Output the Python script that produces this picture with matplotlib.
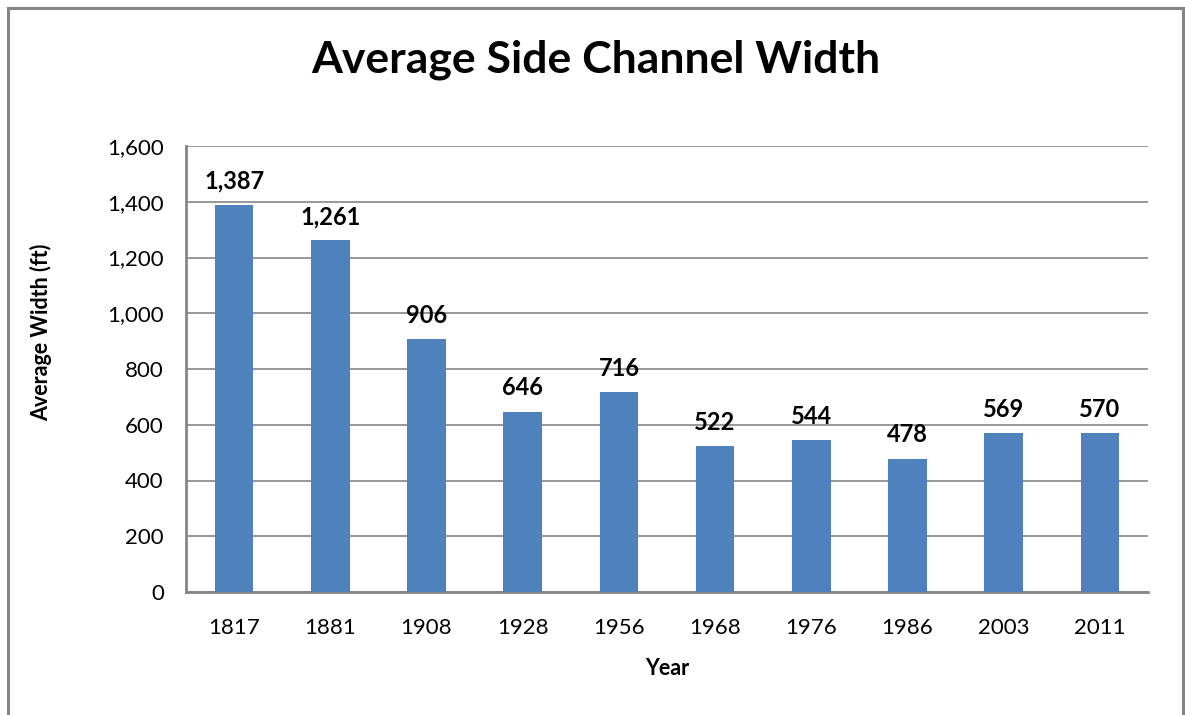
import matplotlib.pyplot as plt
from matplotlib.patches import Rectangle

years = ['1817', '1881', '1908', '1928', '1956', '1968', '1976', '1986', '2003', '2011']
widths = [1387, 1261, 906, 646, 716, 522, 544, 478, 569, 570]
yticks = [0, 200, 400, 600, 800, 1000, 1200, 1400, 1600]

plt.rcParams['font.family'] = ['Lato', 'DejaVu Sans']

W, H = 1185, 715
fig = plt.figure(figsize=(W / 100, H / 100), dpi=100)

# chart frame (bottom edge falls outside the picture)
fig.patches.append(Rectangle((8 / W, -0.1), (1183 - 8) / W, 1.1 - 8 / H, transform=fig.transFigure,
                             fill=False, edgecolor='#868686', linewidth=2.2))

ax = fig.add_axes([186 / W, 1 - 592 / H, (1148 - 186) / W, (592 - 146) / H])
x = range(len(years))
bars = ax.bar(x, widths, width=0.4, color='#4F81BD', zorder=3)
for b, v in zip(bars, widths):
    ax.text(b.get_x() + b.get_width() / 2, v + 45, f'{v:,}', ha='center', va='bottom',
            fontsize=17, fontweight='bold')

ax.set_xlim(-0.5, len(years) - 0.5)
ax.set_ylim(0, 1600)
ax.set_yticks(yticks)
ax.set_yticklabels([f'{t:,}' for t in yticks])
ax.set_xticks(list(x))
ax.set_xticklabels(years)
ax.tick_params(length=0, labelsize=16)
ax.tick_params(axis='y', pad=16)
ax.tick_params(axis='x', pad=19)
ax.grid(axis='y', color='#868686', linewidth=1.2, zorder=0)
for s in ['top', 'right']:
    ax.spines[s].set_visible(False)
for s in ['left', 'bottom']:
    ax.spines[s].set_color('#868686')
    ax.spines[s].set_linewidth(2)

ax.set_xlabel('Year', fontsize=15.5, fontweight='bold', labelpad=14)
ax.set_ylabel('Average Width (ft)', fontsize=15.5, fontweight='bold')
ax.yaxis.set_label_coords((52 - 186) / (1148 - 186), (592 - 332) / (592 - 146))
fig.text(596 / W, 1 - 60 / H, 'Average Side Channel Width', ha='center', va='center',
         fontsize=32, fontweight='bold')

fig.savefig('out.png', dpi=100)
